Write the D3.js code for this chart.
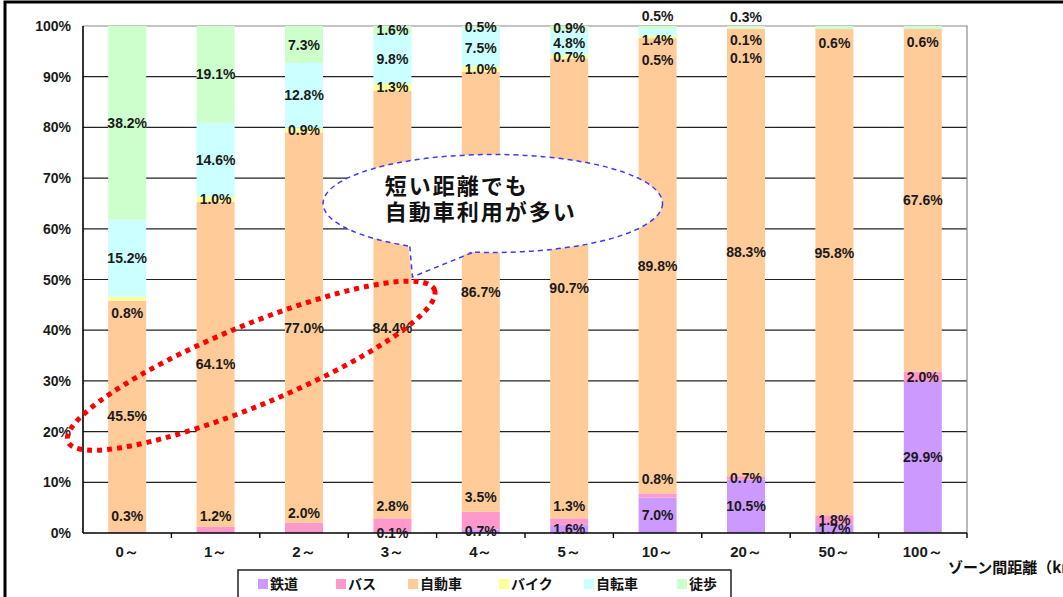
<!DOCTYPE html>
<html>
<head>
<meta charset="utf-8">
<script src="https://cdn.jsdelivr.net/npm/d3@7"></script>
<style>
  html, body { margin: 0; padding: 0; background: #fff; }
  svg { display: block; }
  .num { font-family: "Liberation Sans", Arial, sans-serif; font-weight: bold; fill: #1a1a1a; }
  .jp { font-family: "Noto Sans CJK JP", "Noto Sans", sans-serif; font-weight: bold; fill: #111; }
</style>
</head>
<body>
<div id="chart"></div>
<script>
// Modal share by zone-to-zone distance, 100% stacked.
const categories = ["0～", "1～", "2～", "3～", "4～", "5～", "10～", "20～", "50～", "100～"];
const railShare    = [0, 0, 0, 0.1, 0.7, 1.6, 7.0, 10.5, 1.7, 29.9];
const busShare     = [0.3, 1.2, 2.0, 2.8, 3.5, 1.3, 0.8, 0.7, 1.8, 2.0];
const carShare     = [45.5, 64.1, 77.0, 84.4, 86.7, 90.7, 89.8, 88.3, 95.8, 67.6];
const bikeShare    = [0.8, 1.0, 0.9, 1.3, 1.0, 0.7, 0.5, 0.1, 0, 0];
const bicycleShare = [15.2, 14.6, 12.8, 9.8, 7.5, 4.8, 1.4, 0.1, 0, 0];
const walkShare    = [38.2, 19.1, 7.3, 1.6, 0.5, 0.9, 0.5, 0.3, 0.6, 0.6];

const seriesKeys   = ["rail", "bus", "car", "bike", "bicycle", "walk"];
const seriesNames  = ["鉄道", "バス", "自動車", "バイク", "自転車", "徒歩"];
const seriesColors = ["#cc99ff", "#ff99cc", "#ffcc99", "#ffff99", "#ccffff", "#ccffcc"];
const yTicks = [0, 0.1, 0.2, 0.3, 0.4, 0.5, 0.6, 0.7, 0.8, 0.9, 1];

// hand-moved labels in the original (pixels, + is down)
const labelNudge = {
  "0～|bus": -16, "0～|bike": 14, "1～|bus": -14, "2～|bus": -15,
  "3～|bus": -19, "3～|car": 24, "4～|bus": -24, "5～|bus": -16,
  "10～|bus": -17, "10～|bike": 23, "10～|bicycle": 8, "10～|walk": -11,
  "20～|bike": 30, "20～|bicycle": 12, "20～|walk": -10,
  "50～|car": -19, "50～|walk": 15, "100～|walk": 14
};

const rows = categories.map((c, i) => ({
  cat: c, rail: railShare[i], bus: busShare[i], car: carShare[i],
  bike: bikeShare[i], bicycle: bicycleShare[i], walk: walkShare[i]
}));

const W = 1063, H = 597;
const m = { top: 26, right: 96, bottom: 64, left: 83 };

const svg = d3.select("#chart").append("svg").attr("width", W).attr("height", H);

const x = d3.scaleBand().domain(categories)
  .range([m.left, W - m.right]).paddingInner(0.57).paddingOuter(0.285);
const y = d3.scaleLinear().domain([0, 1]).range([H - m.bottom, m.top]);
const color = d3.scaleOrdinal().domain(seriesKeys).range(seriesColors);
const step = x.step();

// gridlines
svg.append("g").selectAll("line").data(yTicks.filter(t => t > 0 && t < 1)).join("line")
  .attr("x1", m.left).attr("x2", W - m.right)
  .attr("y1", d => y(d)).attr("y2", d => y(d))
  .attr("stroke", "#222").attr("stroke-width", 1.2);
// plot border top/right
svg.append("path")
  .attr("d", `M${m.left},${y(1)}H${W - m.right}V${y(0)}`)
  .attr("fill", "none").attr("stroke", "#8a8a8a").attr("stroke-width", 1.2);

const stacked = d3.stack().keys(seriesKeys).offset(d3.stackOffsetExpand)(rows);

svg.append("g").selectAll("g").data(stacked).join("g")
  .attr("fill", d => color(d.key))
  .selectAll("rect").data(d => d).join("rect")
  .attr("x", d => x(d.data.cat))
  .attr("width", x.bandwidth())
  .attr("y", d => y(d[1]))
  .attr("height", d => Math.max(0, y(d[0]) - y(d[1])));

// axes
svg.append("line").attr("x1", m.left).attr("x2", m.left).attr("y1", y(1)).attr("y2", y(0))
  .attr("stroke", "#000").attr("stroke-width", 1.6);
svg.append("line").attr("x1", m.left).attr("x2", W - m.right).attr("y1", y(0)).attr("y2", y(0))
  .attr("stroke", "#000").attr("stroke-width", 1.6);
svg.append("g").selectAll("line").data(categories).join("line")
  .attr("x1", d => x(d) + x.bandwidth() / 2 + step / 2)
  .attr("x2", d => x(d) + x.bandwidth() / 2 + step / 2)
  .attr("y1", y(0)).attr("y2", y(0) + 5)
  .attr("stroke", "#000").attr("stroke-width", 1.4);

svg.append("g").selectAll("text").data(yTicks).join("text")
  .attr("class", "num").attr("font-size", 14)
  .attr("x", m.left - 12).attr("y", d => y(d)).attr("dy", "0.36em")
  .attr("text-anchor", "end").text(d => d3.format(".0%")(d));

svg.append("g").selectAll("text").data(categories).join("text")
  .attr("class", "num").attr("font-size", 15).attr("font-weight", "normal")
  .attr("x", d => x(d) + x.bandwidth() / 2).attr("y", y(0) + 19).attr("dy", "0.36em")
  .attr("text-anchor", "middle").text(d => d);

svg.append("text").attr("class", "jp").attr("font-size", 15)
  .attr("x", W - m.right - 19).attr("y", y(0) + 35).attr("dy", "0.36em")
  .text("ゾーン間距離（km）");

// value labels
const labels = [];
stacked.forEach(s => s.forEach(d => {
  const v = d.data[s.key];
  if (v > 0) labels.push({ key: s.key, cat: d.data.cat, v, mid: (d[0] + d[1]) / 2 });
}));
svg.append("g").selectAll("text").data(labels).join("text")
  .attr("class", "num").attr("font-size", 14)
  .attr("x", d => x(d.cat) + x.bandwidth() / 2)
  .attr("y", d => y(d.mid) + (labelNudge[d.cat + "|" + d.key] || 0))
  .attr("dy", "0.36em").attr("text-anchor", "middle")
  .text(d => d.v.toFixed(1) + "%");

// callout balloon
const cx = x("4～") + x.bandwidth() / 2 + 12, cy = y(0.65);
const rx = step * 1.92, ry = 49;
const tip = [x("3～") + x.bandwidth() + 1, y(0.505)];
const a1 = [cx - 83, cy + 43], a2 = [cx - 20, cy + 49];
const balloon = svg.append("g");
balloon.append("ellipse").attr("cx", cx).attr("cy", cy).attr("rx", rx).attr("ry", ry)
  .attr("fill", "#fff").attr("stroke", "#3a3aff").attr("stroke-width", 1.5)
  .attr("stroke-dasharray", "5 4");
balloon.append("path")
  .attr("d", `M${a1[0] - 2},${a1[1] - 3}L${tip[0]},${tip[1]}L${a2[0] + 3},${a2[1] - 3}Z`)
  .attr("fill", "#fff");
balloon.append("path")
  .attr("d", `M${a1[0]},${a1[1]}L${tip[0]},${tip[1]}L${a2[0]},${a2[1]}`)
  .attr("fill", "none").attr("stroke", "#3a3aff").attr("stroke-width", 1.5)
  .attr("stroke-dasharray", "5 4");
balloon.append("text").attr("class", "jp").attr("font-size", 22).attr("letter-spacing", 2)
  .attr("x", cx - 108).attr("y", cy - 9).text("短い距離でも");
balloon.append("text").attr("class", "jp").attr("font-size", 22).attr("letter-spacing", 2)
  .attr("x", cx - 108).attr("y", cy + 17).text("自動車利用が多い");

// red dotted ellipse around the short-distance car shares
const e0 = [m.left - 15, y(0.18)], e1 = [x("3～") + x.bandwidth() + 23, y(0.48)];
const ecx = (e0[0] + e1[0]) / 2, ecy = (e0[1] + e1[1]) / 2;
const erx = Math.hypot(e1[0] - e0[0], e1[1] - e0[1]) / 2;
const eang = Math.atan2(e1[1] - e0[1], e1[0] - e0[0]) * 180 / Math.PI;
svg.append("ellipse").attr("cx", 0).attr("cy", 0).attr("rx", erx).attr("ry", 40)
  .attr("transform", `translate(${ecx},${ecy}) rotate(${eang})`)
  .attr("fill", "none").attr("stroke", "#ff0000").attr("stroke-width", 5)
  .attr("stroke-dasharray", "5 5");

// legend
const lg = svg.append("g");
lg.append("rect").attr("x", 238).attr("y", 570).attr("width", 493).attr("height", 40)
  .attr("fill", "#fff").attr("stroke", "#222").attr("stroke-width", 1.5);
const legendX = [258, 336, 408, 499, 584, 677];
seriesKeys.forEach((k, i) => {
  lg.append("rect").attr("x", legendX[i]).attr("y", 579).attr("width", 10).attr("height", 10)
    .attr("fill", color(k));
  lg.append("text").attr("class", "jp").attr("font-size", 14)
    .attr("x", legendX[i] + 12).attr("y", 584).attr("dy", "0.36em").text(seriesNames[i]);
});

// page frame
svg.append("rect").attr("x", 5).attr("y", 2).attr("width", W + 20).attr("height", H + 20)
  .attr("fill", "none").attr("stroke", "#000").attr("stroke-width", 3);
</script>
</body>
</html>
